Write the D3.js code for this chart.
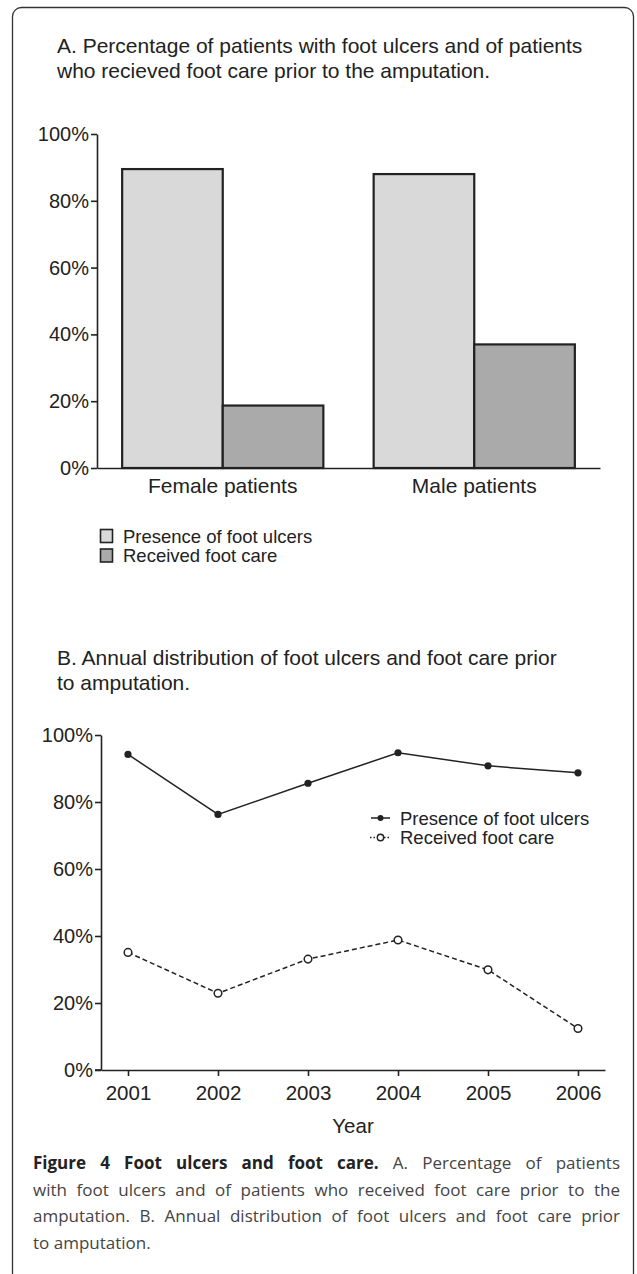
<!DOCTYPE html>
<html><head><meta charset="utf-8">
<script src="https://cdn.jsdelivr.net/npm/d3@7"></script>
<style>html,body{margin:0;padding:0;background:#fff;}svg{display:block;}</style>
</head><body>
<svg id="chart" width="637" height="1274"></svg>
<script>
// ---- data ----
const groups = ["Female patients", "Male patients"];
const barSeries = ["Presence of foot ulcers", "Received foot care"];
const ulcersByGroup = [89.5, 88.0];
const careByGroup = [18.7, 37.0];
const years = ["2001", "2002", "2003", "2004", "2005", "2006"];
const ulcersByYear = [94.2, 76.3, 85.6, 94.7, 90.8, 88.7];
const careByYear = [35.1, 22.9, 33.1, 38.8, 29.9, 12.4];
const yTicks = [0, 20, 40, 60, 80, 100];
const titleA = ["A. Percentage of patients with foot ulcers and of patients",
                "who recieved foot care prior to the amputation."];
const titleB = ["B. Annual distribution of foot ulcers and foot care prior",
                "to amputation."];
const captionBold = "Figure 4 Foot ulcers and foot care.";
const captionLines = [
  " A. Percentage of patients",
  "with foot ulcers and of patients who received foot care prior to the",
  "amputation. B. Annual distribution of foot ulcers and foot care prior",
  "to amputation."
];

const svg = d3.select("#chart");
const ink = "#222";
const sans = "'Liberation Sans', Arial, sans-serif";

// frame
svg.append("rect").attr("x", 12.5).attr("y", 7.5).attr("width", 621).attr("height", 1275)
  .attr("rx", 9).attr("fill", "none").attr("stroke", "#333").attr("stroke-width", 1.3);

function titleBlock(lines, x, y0, dy) {
  const t = svg.append("text").attr("font-family", sans).attr("font-size", 21).attr("fill", ink);
  lines.forEach((l, i) => t.append("tspan").attr("x", x).attr("y", y0 + i * dy).text(l));
}
titleBlock(titleA, 57, 53, 24.5);
titleBlock(titleB, 57, 665, 25);

function styleYAxis(g) {
  g.select(".domain").attr("stroke", ink).attr("stroke-width", 1.6);
  g.selectAll(".tick line").attr("stroke", ink).attr("stroke-width", 1.6);
  g.selectAll(".tick text").attr("font-family", sans).attr("font-size", 20).attr("fill", ink);
}

// ---- Chart A ----
const yA = d3.scaleLinear().domain([0, 100]).range([468, 134]);
const xA = d3.scaleBand().domain(groups).range([97, 600]).paddingInner(0.2).paddingOuter(0.1);
const xSub = d3.scaleBand().domain(barSeries).range([0, xA.bandwidth()]);
const barColors = ["#d9d9d9", "#aaaaaa"];

const gyA = svg.append("g").attr("transform", "translate(97,0)")
  .call(d3.axisLeft(yA).tickValues(yTicks).tickFormat(d => d + "%").tickSize(6).tickSizeOuter(0).tickPadding(2));
styleYAxis(gyA);

const barData = [];
groups.forEach((g, i) => {
  barData.push({g, s: barSeries[0], v: ulcersByGroup[i]});
  barData.push({g, s: barSeries[1], v: careByGroup[i]});
});
svg.append("g").selectAll("rect").data(barData).join("rect")
  .attr("x", d => xA(d.g) + xSub(d.s))
  .attr("y", d => yA(d.v))
  .attr("width", xSub.bandwidth())
  .attr("height", d => yA(0) - yA(d.v))
  .attr("fill", d => barColors[barSeries.indexOf(d.s)])
  .attr("stroke", ink).attr("stroke-width", 2.2);

const gxA = svg.append("g").attr("transform", "translate(0,468)")
  .call(d3.axisBottom(xA).tickSize(0).tickPadding(10));
gxA.select(".domain").attr("stroke", ink).attr("stroke-width", 1.6);
gxA.selectAll(".tick text").attr("font-family", sans).attr("font-size", 21).attr("fill", ink);

// legend A
const legA = svg.append("g");
barSeries.forEach((s, i) => {
  legA.append("rect").attr("x", 100.5).attr("y", 529.5 + i * 19.5).attr("width", 12).attr("height", 13)
    .attr("fill", barColors[i]).attr("stroke", ink).attr("stroke-width", 1.6);
  legA.append("text").attr("x", 123).attr("y", 542.5 + i * 19.5).attr("font-family", sans)
    .attr("font-size", 18.5).attr("fill", ink).text(s);
});

// ---- Chart B ----
const yB = d3.scaleLinear().domain([0, 100]).range([1070, 735]);
const xB = d3.scalePoint().domain(years).range([101, 605]).padding(0.3);

const gyB = svg.append("g").attr("transform", "translate(101,0)")
  .call(d3.axisLeft(yB).tickValues(yTicks).tickFormat(d => d + "%").tickSize(6).tickSizeOuter(0).tickPadding(2));
styleYAxis(gyB);

const gxB = svg.append("g").attr("transform", "translate(0,1070)")
  .call(d3.axisBottom(xB).tickSize(6).tickSizeOuter(0).tickPadding(9));
gxB.select(".domain").attr("stroke", ink).attr("stroke-width", 1.6);
gxB.selectAll(".tick line").attr("stroke", ink).attr("stroke-width", 1.6);
gxB.selectAll(".tick text").attr("font-family", sans).attr("font-size", 20.5).attr("fill", ink);
svg.append("line").attr("x1", 95).attr("x2", 101).attr("y1", 1070).attr("y2", 1070)
  .attr("stroke", ink).attr("stroke-width", 1.6);

svg.append("text").attr("x", (101 + 605) / 2).attr("y", 1133).attr("text-anchor", "middle")
  .attr("font-family", sans).attr("font-size", 20.5).attr("fill", ink).text("Year");

const line = d3.line().x((d, i) => xB(years[i])).y(d => yB(d));
svg.append("path").datum(ulcersByYear).attr("d", line).attr("fill", "none")
  .attr("stroke", ink).attr("stroke-width", 1.5);
svg.append("path").datum(careByYear).attr("d", line).attr("fill", "none")
  .attr("stroke", ink).attr("stroke-width", 1.5).attr("stroke-dasharray", "5,3");
svg.append("g").selectAll("circle").data(ulcersByYear).join("circle")
  .attr("cx", (d, i) => xB(years[i])).attr("cy", d => yB(d)).attr("r", 3.6).attr("fill", ink);
svg.append("g").selectAll("circle").data(careByYear).join("circle")
  .attr("cx", (d, i) => xB(years[i])).attr("cy", d => yB(d)).attr("r", 3.8)
  .attr("fill", "#fff").attr("stroke", ink).attr("stroke-width", 1.5);

// legend B
const legB = svg.append("g");
legB.append("line").attr("x1", 371).attr("x2", 390).attr("y1", 818).attr("y2", 818)
  .attr("stroke", ink).attr("stroke-width", 1.5);
legB.append("circle").attr("cx", 380.5).attr("cy", 818).attr("r", 3).attr("fill", ink);
legB.append("line").attr("x1", 370).attr("x2", 391).attr("y1", 837.5).attr("y2", 837.5)
  .attr("stroke", ink).attr("stroke-width", 1.3).attr("stroke-dasharray", "1.5,2");
legB.append("circle").attr("cx", 380.5).attr("cy", 837.5).attr("r", 3.2).attr("fill", "#fff")
  .attr("stroke", ink).attr("stroke-width", 1.4);
barSeries.forEach((s, i) => {
  legB.append("text").attr("x", 400).attr("y", 824.5 + i * 19.5).attr("font-family", sans)
    .attr("font-size", 18.5).attr("fill", ink).text(s);
});

// ---- caption ----
const capFont = "'Open Sans', 'Noto Sans', sans-serif";
const capX = 33, capRight = 620, capY0 = 1169, capDy = 26.5, capSize = 17;
captionLines.forEach((l, i) => {
  const t = svg.append("text").attr("x", capX).attr("y", capY0 + i * capDy)
    .attr("font-family", capFont).attr("font-size", capSize).attr("fill", "#444")
    .attr("xml:space", "preserve");
  if (i === 0) {
    t.append("tspan").attr("font-weight", "bold").attr("fill", "#222").text(captionBold);
  }
  t.append("tspan").text(l);
  if (i < captionLines.length - 1) {
    const nat = t.node().getComputedTextLength();
    const full = (i === 0 ? captionBold : "") + l;
    const spaces = (full.match(/ /g) || []).length;
    if (spaces > 0) t.attr("word-spacing", (capRight - capX - nat) / spaces);
  }
});
</script>
</body></html>
